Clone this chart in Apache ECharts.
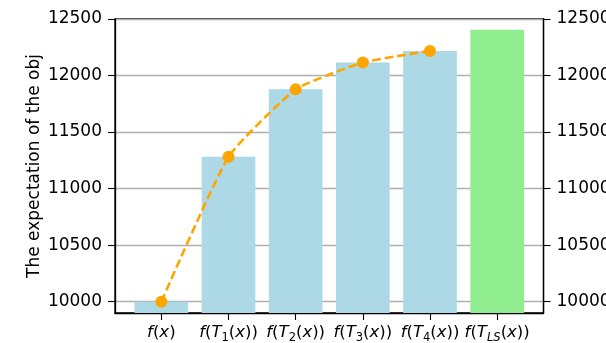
<!DOCTYPE html>
<html><head><meta charset="utf-8">
<script src="https://cdn.jsdelivr.net/npm/echarts@6/dist/echarts.min.js"></script>
<style>html,body{margin:0;padding:0;background:#fff}#c{width:606px;height:343px}</style>
</head><body><div id="c"></div>
<script>
const categories = ['{i|f}({i|x})', '{i|f}({i|T}{s|1}({i|x}))', '{i|f}({i|T}{s|2}({i|x}))', '{i|f}({i|T}{s|3}({i|x}))', '{i|f}({i|T}{s|4}({i|x}))', '{i|f}({i|T}{si|LS}({i|x}))'];
const barValues = [10000, 11282, 11878, 12115, 12218, 12405];
const barColors = ['#ADD8E6', '#ADD8E6', '#ADD8E6', '#ADD8E6', '#ADD8E6', '#90EE90'];
const lineValues = [10000, 11282, 11878, 12115, 12218];
const yTicks = [10000, 10500, 11000, 11500, 12000, 12500];
const yLabel = 'The expectation of the obj';

const FONT = 'DejaVu Sans';
const FS = 17;
const idx = categories.map((_, k) => k);
const chart = echarts.init(document.getElementById('c'), null, {renderer: 'canvas'});
const yCommon = {
  type: 'value', min: 9900, max: 12500,
  axisLine: {show: true, onZero: false, lineStyle: {color: '#000', width: 1.3}},
  axisTick: {show: true, inside: false, length: 7, customValues: yTicks, lineStyle: {color: '#000', width: 1.1}},
  axisLabel: {customValues: yTicks, formatter: v => String(v), fontFamily: FONT, fontSize: FS, color: '#000', margin: 13},
};
chart.setOption({
  animation: false,
  grid: {left: 115, right: 62.5, top: 19, bottom: 30, containLabel: false, outerBoundsMode: 'none', show: true, borderColor: '#000', borderWidth: 1.3, backgroundColor: 'transparent'},
  xAxis: {
    type: 'value', min: -0.69, max: 5.69,
    axisLine: {show: true, onZero: false, lineStyle: {color: '#000', width: 1.3}},
    axisTick: {show: true, length: 7, customValues: idx, lineStyle: {color: '#000', width: 1.1}},
    splitLine: {show: false},
    axisLabel: {
      customValues: idx, margin: 9,
      formatter: v => categories[Math.round(v)],
      rich: {
        i: {fontFamily: FONT, fontSize: 16.5, fontStyle: 'italic', color: '#000', lineHeight: 22, verticalAlign: 'middle'},
        s: {fontFamily: FONT, fontSize: 11.5, color: '#000', lineHeight: 22, verticalAlign: 'bottom'},
        si: {fontFamily: FONT, fontSize: 11.5, fontStyle: 'italic', color: '#000', lineHeight: 22, verticalAlign: 'bottom'}
      },
      fontFamily: FONT, fontSize: 16.5, color: '#000', lineHeight: 22
    }
  },
  yAxis: [
    Object.assign({}, yCommon, {
      position: 'left',
      splitLine: {show: true, lineStyle: {color: '#b0b0b0', width: 1.3}},
      name: yLabel, nameLocation: 'middle', nameGap: 72, nameMoveOverlap: false,
      nameTextStyle: {fontFamily: FONT, fontSize: FS, color: '#000'}
    }),
    Object.assign({}, yCommon, {position: 'right', splitLine: {show: false}})
  ],
  series: [
    {
      type: 'bar', barWidth: 53.7, yAxisIndex: 0,
      data: barValues.map((v, k) => ({value: [k, v], itemStyle: {color: barColors[k]}})),
      z: 2
    },
    {
      type: 'line', yAxisIndex: 0, smooth: 0.15,
      data: lineValues.map((v, k) => [k, v]),
      symbol: 'circle', symbolSize: 12,
      itemStyle: {color: '#FFA500'},
      lineStyle: {color: '#FFA500', width: 2.6, type: [8.5, 4]},
      z: 3
    }
  ]
});
</script></body></html>
